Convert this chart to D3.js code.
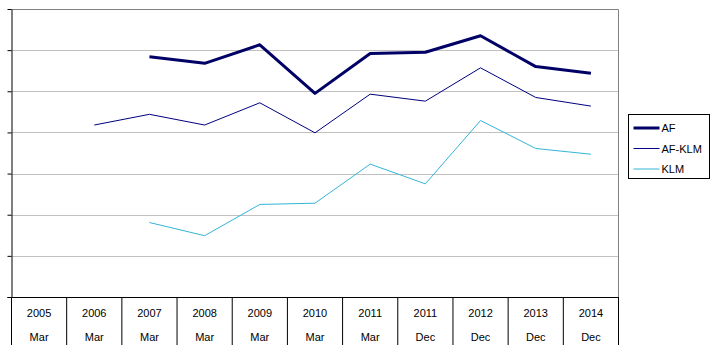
<!DOCTYPE html>
<html>
<head>
<meta charset="utf-8">
<script src="https://cdn.jsdelivr.net/npm/d3@7"></script>
<style>
  body { margin: 0; background: #fff; }
  svg { display: block; font-family: Arial, "Liberation Sans", sans-serif; }
</style>
</head>
<body>
<div id="chart"></div>
<script>
// Data (no value labels, so the unit is one gridline step)
const years = ["2005", "2006", "2007", "2008", "2009", "2010", "2011", "2011", "2012", "2013", "2014"];
const months = ["Mar", "Mar", "Mar", "Mar", "Mar", "Mar", "Mar", "Dec", "Dec", "Dec", "Dec"];
const af     = [null, null, 5.84, 5.68, 6.13, 4.95, 5.92, 5.95, 6.35, 5.60, 5.44];
const afKlm  = [null, 4.18, 4.44, 4.18, 4.72, 3.99, 4.93, 4.76, 5.57, 4.85, 4.64];
const klm    = [null, null, 1.81, 1.49, 2.25, 2.28, 3.23, 2.75, 4.29, 3.61, 3.47];
const seriesNames = ["AF", "AF-KLM", "KLM"];
const yTicks = [0, 1, 2, 3, 4, 5, 6, 7];

const width = 715, height = 352;
const plot = {left: 11.5, right: 618.5, top: 9, bottom: 297};

const series = [
  {name: seriesNames[0], values: af,    color: "#000066", w: 3},
  {name: seriesNames[1], values: afKlm, color: "#000080", w: 1},
  {name: seriesNames[2], values: klm,   color: "#33B5D6", w: 1}
];

const svg = d3.select("#chart").append("svg")
  .attr("width", width)
  .attr("height", height);

const idx = years.map((d, i) => i);
const x = d3.scaleBand().domain(idx).range([plot.left, plot.right]);
const y = d3.scaleLinear().domain([0, 7]).range([plot.bottom, plot.top]);

// gridlines
svg.append("g")
  .selectAll("line")
  .data(yTicks.slice(1, -1))
  .enter().append("line")
  .attr("x1", plot.left).attr("x2", plot.right)
  .attr("y1", d => Math.round(y(d)) + 0.5).attr("y2", d => Math.round(y(d)) + 0.5)
  .attr("stroke", "#c0c0c0");

// plot border top/right
svg.append("path")
  .attr("d", `M${plot.left},${plot.top + 0.5}H${plot.right}V${plot.bottom}`)
  .attr("fill", "none")
  .attr("stroke", "#808080");

// y axis (no labels)
const yAxis = svg.append("g")
  .attr("transform", `translate(${plot.left},0)`)
  .call(d3.axisLeft(y).tickValues(yTicks).tickSize(4).tickSizeOuter(0).tickFormat(""));
yAxis.selectAll("line, path").attr("stroke", "#000");

// x axis line
svg.append("line")
  .attr("x1", plot.left - 4).attr("x2", plot.right)
  .attr("y1", plot.bottom + 0.5).attr("y2", plot.bottom + 0.5)
  .attr("stroke", "#000");

// category separators (table style)
const seps = idx.map(i => x(i)).concat([plot.right]);
svg.append("g")
  .selectAll("line")
  .data(seps)
  .enter().append("line")
  .attr("x1", d => d).attr("x2", d => d)
  .attr("y1", plot.bottom).attr("y2", 345)
  .attr("stroke", "#000");

// category labels
const lab = svg.append("g")
  .attr("font-size", "11px")
  .attr("fill", "#000")
  .attr("text-anchor", "middle");
lab.selectAll(".yr")
  .data(idx)
  .enter().append("text")
  .attr("x", i => x(i) + x.bandwidth() / 2)
  .attr("y", 317)
  .text(i => years[i]);
lab.selectAll(".mo")
  .data(idx)
  .enter().append("text")
  .attr("x", i => x(i) + x.bandwidth() / 2)
  .attr("y", 341)
  .text(i => months[i]);

// lines
const line = d3.line()
  .defined(d => d.v != null)
  .x(d => x(d.i) + x.bandwidth() / 2)
  .y(d => y(d.v));

svg.append("g")
  .selectAll("path")
  .data(series.slice().reverse())
  .enter().append("path")
  .attr("d", s => line(s.values.map((v, i) => ({i, v}))))
  .attr("fill", "none")
  .attr("stroke", s => s.color)
  .attr("stroke-width", s => s.w)
  .attr("stroke-linejoin", "round");

// legend
const lg = svg.append("g").attr("transform", "translate(628.5,114.5)");
lg.append("rect")
  .attr("width", 81).attr("height", 64)
  .attr("fill", "#fff").attr("stroke", "#000");
const item = lg.selectAll(".item")
  .data(series)
  .enter().append("g")
  .attr("transform", (d, i) => `translate(0,${13.5 + i * 20.5})`);
item.append("line")
  .attr("x1", 5).attr("x2", 31)
  .attr("stroke", d => d.color)
  .attr("stroke-width", d => d.w);
item.append("text")
  .attr("x", 33).attr("y", 4)
  .attr("font-size", "11px")
  .text(d => d.name);
</script>
</body>
</html>
